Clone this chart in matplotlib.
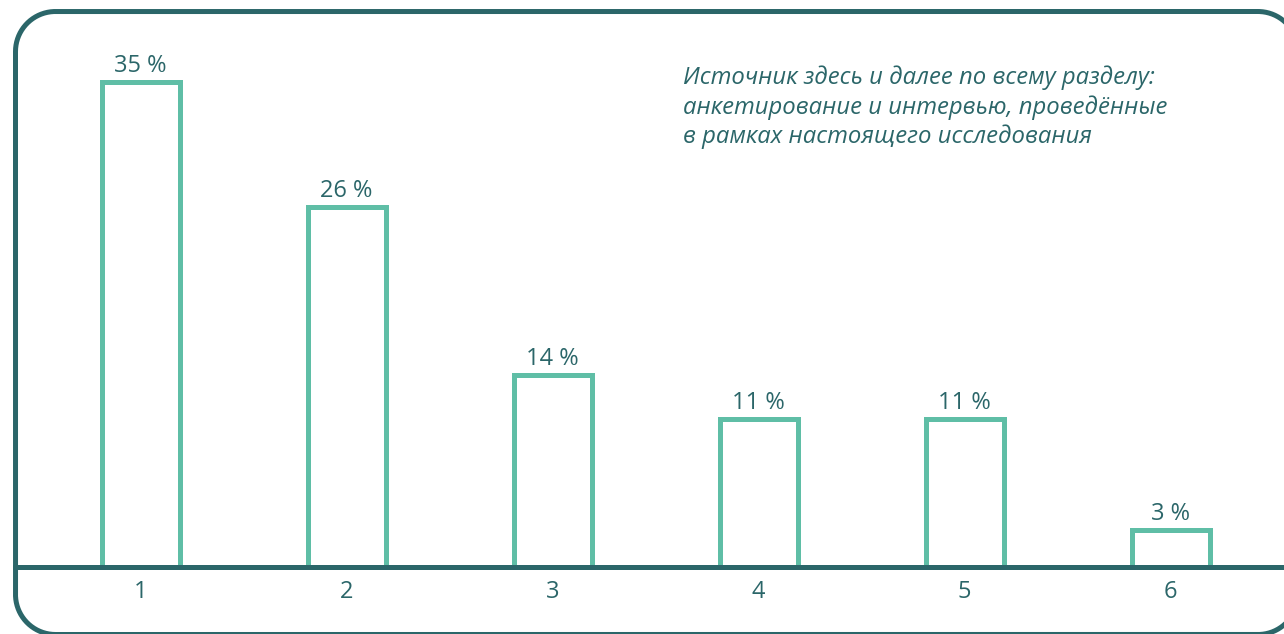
import matplotlib
matplotlib.use("Agg")
import matplotlib.pyplot as plt
import numpy as np
from matplotlib.lines import Line2D
from matplotlib.transforms import IdentityTransform

categories = ["1", "2", "3", "4", "5", "6"]
values = [35.0, 26.0, 13.85, 10.7, 10.7, 2.65]
labels = ["35 %", "26 %", "14 %", "11 %", "11 %", "3 %"]
note = ("Источник здесь и далее по всему разделу:\n"
        "анкетирование и интервью, проведённые\n"
        "в рамках настоящего исследования")

DARK = "#2b6669"
GREEN = "#5fbea6"
plt.rcParams['font.family'] = ['Open Sans', 'DejaVu Sans']

W, H = 1284, 634
fig = plt.figure(figsize=(W / 100, H / 100), dpi=100)
fig.patch.set_facecolor("white")

base_py = 567
ax = fig.add_axes([0, (H - base_py) / H, 1, base_py / H])
px_per_unit = 206.0
px_per_val = 13.86
x = list(range(1, len(categories) + 1))
x0 = 1 - 140.5 / px_per_unit
x1 = 6 + (W - 1170.5) / px_per_unit
ax.set_xlim(x0, x1)
ax.set_ylim(0, base_py / px_per_val)

bars = ax.bar(x, values, width=78 / px_per_unit, facecolor="white",
              edgecolor=GREEN, linewidth=3.6, zorder=2, clip_on=False)
for b in bars:
    b.set_joinstyle("miter")

for xi, v, lab in zip(x, values, labels):
    ax.annotate(lab, (xi, v), xytext=(0, 7.2), textcoords="offset points",
                ha="center", va="baseline", fontsize=17, color=DARK)

for s in ["top", "right", "left"]:
    ax.spines[s].set_visible(False)
ax.spines["bottom"].set_color(DARK)
ax.spines["bottom"].set_linewidth(3.6)
ax.spines["bottom"].set_zorder(3)
ax.spines["bottom"].set_bounds(x0 + 15 / px_per_unit, x1)
ax.set_yticks([])
ax.set_xticks(x)
ax.set_xticklabels(categories, fontsize=17, color=DARK)
ax.tick_params(axis="x", length=0, pad=9)
ax.patch.set_alpha(0)

ax.text(683 / W, (H - 143) / H, note, transform=fig.transFigure, ha="left",
        va="baseline", fontsize=17.2, style="italic", color=DARK,
        linespacing=1.25)

# rounded frame (decoration), in pixel units, y measured from bottom
L, R, B, T, r = 15.5, 1298.0, -0.5, 622.5, 40.0
def arc(cx, cy, a0, a1, n=40):
    t = np.linspace(np.radians(a0), np.radians(a1), n)
    return cx + r * np.cos(t), cy + r * np.sin(t)
segs = [arc(R - r, T - r, 0, 90), arc(L + r, T - r, 90, 180),
        arc(L + r, B + r, 180, 270), arc(R - r, B + r, 270, 360)]
fx = np.concatenate([s[0] for s in segs] + [segs[0][0][:1]])
fy = np.concatenate([s[1] for s in segs] + [segs[0][1][:1]])
frame = Line2D(fx, fy, transform=IdentityTransform(), color=DARK,
               linewidth=3.6, solid_joinstyle="round", zorder=5)
fig.lines.append(frame)

fig.savefig("out.png", dpi=100)
